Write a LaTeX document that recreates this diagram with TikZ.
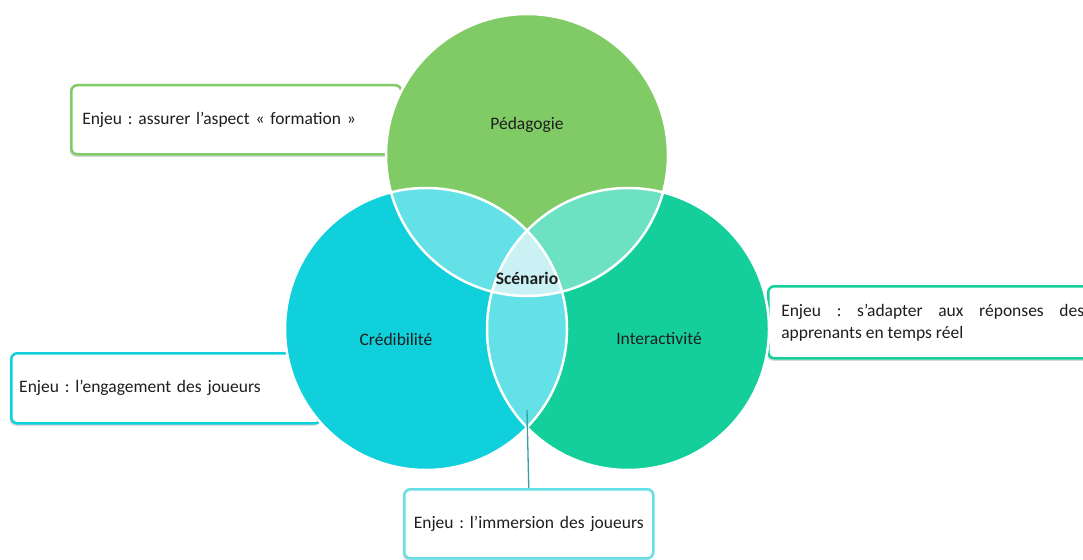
\documentclass[tikz,border=0pt]{standalone}
\usepackage{fontspec}
\setmainfont{Carlito}
\usetikzlibrary{shadows}
\definecolor{cgreen}{HTML}{80CB65}
\definecolor{ccyan}{HTML}{0FD0DB}
\definecolor{cteal}{HTML}{14CF9B}
\definecolor{lensTL}{HTML}{63E1E7}
\definecolor{lensTR}{HTML}{6CE2C3}
\definecolor{lensB}{HTML}{63E1E7}
\definecolor{lensC}{HTML}{CAF2F5}
\definecolor{boxB}{HTML}{66DFE6}
\definecolor{linkc}{HTML}{3A9EA6}
\definecolor{txt}{HTML}{1E1E1E}
\begin{document}
\frenchspacing
\begin{tikzpicture}[x=1pt,y=-1pt,
  callout/.style={draw=#1, line width=2.5pt, rounded corners=6pt, fill=white,
    drop shadow={opacity=0.3, shadow xshift=-1.5pt, shadow yshift=-2.5pt},
    font=\fontsize{17.5}{22}\selectfont, text=txt},
  lbl/.style={font=\fontsize{17.5}{20}\selectfont, text=txt},
  ring/.style={draw=white, line width=2.5pt}]
\clip (0,0) rectangle (1083,559);
\fill[white] (0,0) rectangle (1083,559);
% callouts
\node[callout=cgreen, anchor=north west, minimum width=330pt, minimum height=69pt,
  inner xsep=11pt, text width=308pt, align=left] (cPed) at (70,84)
  {Enjeu : assurer l’aspect « formation »};
\node[callout=ccyan, anchor=north west, minimum width=310pt, minimum height=70pt,
  inner xsep=8pt, text width=294pt, align=left] (cCred) at (10,352)
  {Enjeu : l’engagement des joueurs};
\node[callout=cteal, anchor=north west, minimum height=72pt,
  inner xsep=13pt, text width=303pt, align=justify] (cInt) at (767,285)
  {Enjeu : s’adapter aux réponses des\linebreak apprenants en temps réel};
\node[callout=boxB, anchor=north west, minimum width=249pt, minimum height=69pt,
  inner xsep=4pt, text width=241pt, align=center] (cScen) at (403,488)
  {Enjeu : l’immersion des joueurs};
% circles
\coordinate (oT) at (527,155);
\coordinate (oL) at (426,329);
\coordinate (oR) at (628,329);
\fill[cgreen] (oT) circle[radius=141pt];
\fill[ccyan] (oL) circle[radius=141pt];
\fill[cteal] (oR) circle[radius=141pt];
\begin{scope}
  \clip (oT) circle[radius=141pt];
  \fill[lensTL] (oL) circle[radius=141pt];
  \fill[lensTR] (oR) circle[radius=141pt];
\end{scope}
\begin{scope}
  \clip (oL) circle[radius=141pt];
  \fill[lensB] (oR) circle[radius=141pt];
\end{scope}
\begin{scope}
  \clip (oT) circle[radius=141pt];
  \clip (oL) circle[radius=141pt];
  \fill[lensC] (oR) circle[radius=141pt];
\end{scope}
\draw[ring] (oT) circle[radius=141pt];
\draw[ring] (oL) circle[radius=141pt];
\draw[ring] (oR) circle[radius=141pt];
% labels
\node[lbl] (ped) at (527,125) {Pédagogie};
\node[lbl] (cred) at (396,339) {Crédibilité};
\node[lbl] (inter) at (659,339) {Interactivité};
\node[lbl, font=\fontsize{17.5}{20}\selectfont\bfseries] (scen) at (527,278) {Scénario};
% connector
\coordinate (lk) at (527,410);
\draw[linkc, line width=1.3pt] (lk) -- (cScen.north);
\end{tikzpicture}
\end{document}
